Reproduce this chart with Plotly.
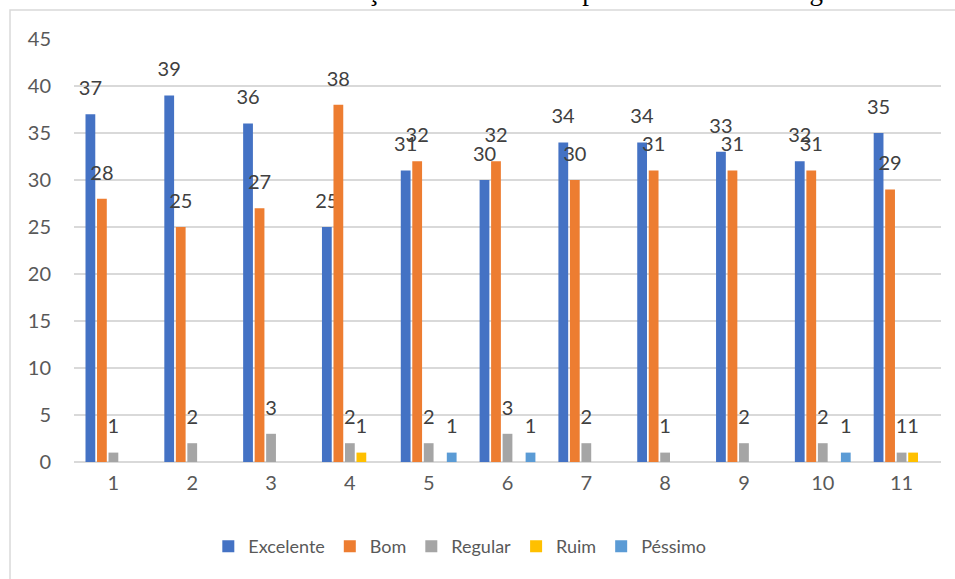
import plotly.graph_objects as go

categories = ["1", "2", "3", "4", "5", "6", "7", "8", "9", "10", "11"]
excelente = [37, 39, 36, 25, 31, 30, 34, 34, 33, 32, 35]
bom = [28, 25, 27, 38, 32, 32, 30, 31, 31, 31, 29]
regular = [1, 2, 3, 2, 2, 3, 2, 1, 2, 2, 1]
ruim = [None, None, None, 1, None, None, None, None, None, None, 1]
pessimo = [None, None, None, None, 1, 1, None, None, None, 1, None]
y_ticks = [0, 5, 10, 15, 20, 25, 30, 35, 40, 45]

series = [
    ("Excelente", excelente, "#4472C4"),
    ("Bom", bom, "#ED7D31"),
    ("Regular", regular, "#A5A5A5"),
    ("Ruim", ruim, "#FFC000"),
    ("Péssimo", pessimo, "#5B9BD5"),
]

FONT = "Lato, 'Open Sans', sans-serif"

fig = go.Figure()
for name, vals, color in series:
    fig.add_trace(go.Bar(
        name=name, x=categories, y=vals,
        marker=dict(color=color, line=dict(width=0)),
        text=[None if v is None else f"<span style='font-size:20px'>{v}</span><br> " for v in vals],
        textposition="outside", textangle=0, constraintext="none", cliponaxis=False,
        textfont=dict(size=11, color="#404040", family=FONT),
        hoverinfo="skip",
    ))

fig.update_layout(
    width=955, height=579,
    margin=dict(l=74, r=14, t=39, b=117),
    paper_bgcolor="white", plot_bgcolor="white",
    barmode="group", bargap=0.27, bargroupgap=0.15,
    font=dict(family=FONT, size=19, color="#595959"),
    showlegend=True,
    legend=dict(orientation="h", x=0.445, xanchor="center", y=-0.2, yanchor="middle",
                font=dict(size=18, color="#595959"), itemwidth=30, traceorder="normal"),
    xaxis=dict(type="category", showgrid=False, showline=False, ticks="",
               tickfont=dict(size=20, color="#595959"), ticklabelstandoff=7),
    yaxis=dict(range=[0, 45], tickvals=y_ticks, showgrid=True, gridcolor="#D9D9D9", gridwidth=1.5,
               zeroline=True, zerolinecolor="#D9D9D9", zerolinewidth=1.5, showline=False, ticks="",
               tickfont=dict(size=20, color="#595959"), ticklabelstandoff=22),
    shapes=[dict(type="rect", xref="paper", yref="paper", x0=-0.0738, x1=1.2, y0=-0.6, y1=1.0686,
                 line=dict(color="#D9D9D9", width=1.5), layer="below")],
    annotations=[dict(text="Gráfico 16 – Autoavaliação da área – Geral por Curso – Enfermagem",
                      xref="paper", yref="paper", x=0.47, y=(462 - 8) / 423, xanchor="center", yanchor="bottom",
                      showarrow=False, font=dict(family="Liberation Serif", size=27, color="#000000"))],
)

fig.write_html("out.html", config={"displayModeBar": False},
               post_script="document.body.style.margin='0';")
